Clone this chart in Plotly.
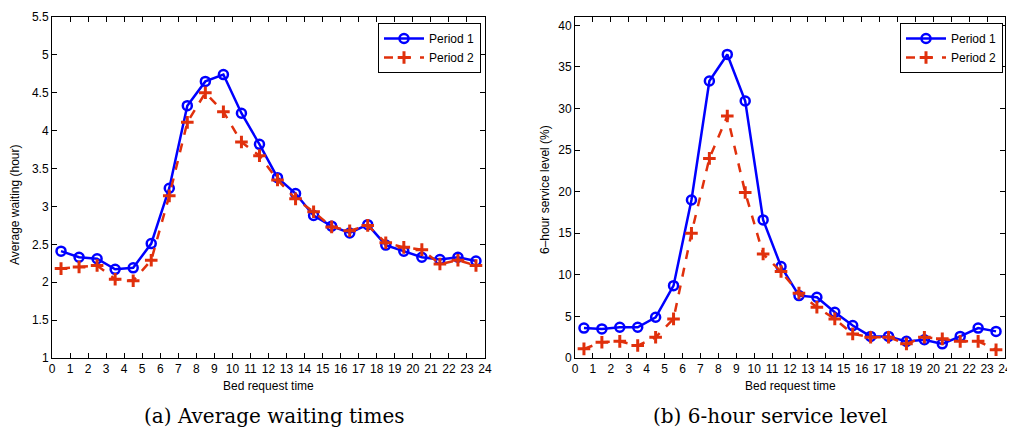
import plotly.graph_objects as go

hours = [h + 0.5 for h in range(24)]
xticks = list(range(25))

wait_p1 = [2.41, 2.33, 2.31, 2.17, 2.19, 2.51, 3.24, 4.33, 4.65, 4.74, 4.23, 3.82,
           3.38, 3.17, 2.88, 2.74, 2.65, 2.76, 2.49, 2.41, 2.33, 2.30, 2.33, 2.28]
wait_p2 = [2.18, 2.20, 2.22, 2.04, 2.02, 2.29, 3.14, 4.11, 4.50, 4.25, 3.85, 3.67,
           3.35, 3.10, 2.93, 2.73, 2.68, 2.75, 2.52, 2.46, 2.43, 2.24, 2.29, 2.22]

svc_p1 = [3.6, 3.5, 3.7, 3.7, 4.9, 8.7, 19.0, 33.3, 36.5, 30.9, 16.6, 11.0,
          7.5, 7.3, 5.5, 3.9, 2.6, 2.6, 2.0, 2.2, 1.7, 2.6, 3.6, 3.2]
svc_p2 = [1.1, 1.9, 2.0, 1.5, 2.5, 4.7, 15.0, 24.0, 29.1, 19.9, 12.5, 10.4,
          7.8, 6.1, 4.7, 2.9, 2.5, 2.5, 1.7, 2.5, 2.3, 2.0, 2.0, 1.0]

wait_ticks = [1, 1.5, 2, 2.5, 3, 3.5, 4, 4.5, 5, 5.5]
svc_ticks = [0, 5, 10, 15, 20, 25, 30, 35, 40]

series_names = ["Period 1", "Period 2"]
captions = ["(a) Average waiting times", "(b) 6-hour service level"]
x_title = "Bed request time"
y_titles = ["Average waiting (hour)", "6\u2013hour service level (%)"]

BLUE = "#0000ff"
RED = "#e0300c"
W, H = 1015, 434
OFF = 8  # page body margin in the browser
SANS = "Liberation Sans, Arial"

def px_x(p):
    return (p - OFF) / W

def px_y(p):
    return 1 - (p - OFF) / H

fig = go.Figure()

def add_pair(p1, p2, xa, ya, legend):
    fig.add_trace(go.Scatter(
        x=hours, y=p1, name=series_names[0], mode="lines+markers",
        line=dict(color=BLUE, width=2.5),
        marker=dict(symbol="circle-open", size=9, color=BLUE, line=dict(width=2.5, color=BLUE)),
        xaxis=xa, yaxis=ya, legend=legend))
    fig.add_trace(go.Scatter(
        x=hours, y=p2, name=series_names[1], mode="lines+markers",
        line=dict(color=RED, width=2.5, dash="dash"),
        marker=dict(symbol="cross-thin-open", size=9, color=RED, line=dict(width=3, color=RED)),
        xaxis=xa, yaxis=ya, legend=legend))

add_pair(wait_p1, wait_p2, "x", "y", "legend")
add_pair(svc_p1, svc_p2, "x2", "y2", "legend2")

axis_common = dict(
    showline=True, linecolor="black", linewidth=1, mirror="ticks",
    ticks="inside", ticklen=5, tickcolor="black", tickwidth=1,
    showgrid=False, zeroline=False, automargin=False,
    tickfont=dict(family=SANS, size=12, color="black"),
)

title_font = dict(family=SANS, size=12, color="black")
ydom = [px_y(358), px_y(17)]

legend_common = dict(xanchor="right", yanchor="top",
                     bordercolor="black", borderwidth=1, bgcolor="white",
                     font=dict(family=SANS, size=12, color="black"),
                     tracegroupgap=0, itemwidth=40)

fig.update_layout(
    width=W, height=H,
    margin=dict(l=0, r=0, t=0, b=0),
    plot_bgcolor="white", paper_bgcolor="white",
    xaxis=dict(domain=[px_x(52), px_x(485)], range=[0, 24], tickvals=xticks,
               anchor="y", **axis_common),
    yaxis=dict(domain=ydom, range=[1, 5.5], tickvals=wait_ticks,
               ticktext=[f"{v:g}" for v in wait_ticks], anchor="x", **axis_common),
    xaxis2=dict(domain=[px_x(575), px_x(1005)], range=[0, 24], tickvals=xticks,
                anchor="y2", **axis_common),
    yaxis2=dict(domain=ydom, range=[0, 41], tickvals=svc_ticks, anchor="x2",
                **axis_common),
    legend=dict(x=px_x(481), y=px_y(23), **legend_common),
    legend2=dict(x=px_x(1003), y=px_y(23), **legend_common),
    showlegend=True,
)

# axis titles
for cx in [268, 790]:
    fig.add_annotation(x=px_x(cx), y=px_y(386), xref="paper", yref="paper",
                       text=x_title, showarrow=False, xanchor="center", yanchor="middle",
                       font=title_font)
for cx, cy, text in zip([15, 545], [205, 190], y_titles):
    fig.add_annotation(x=px_x(cx), y=px_y(cy), xref="paper", yref="paper",
                       text=text, showarrow=False, textangle=-90,
                       xanchor="center", yanchor="middle", font=title_font)

for cx, text in zip([274, 770], captions):
    fig.add_annotation(x=px_x(cx), y=px_y(416), xref="paper", yref="paper",
                       text=text, showarrow=False, xanchor="center", yanchor="middle",
                       font=dict(family="DejaVu Serif", size=20, color="black"))

fig.write_html("out.html")
